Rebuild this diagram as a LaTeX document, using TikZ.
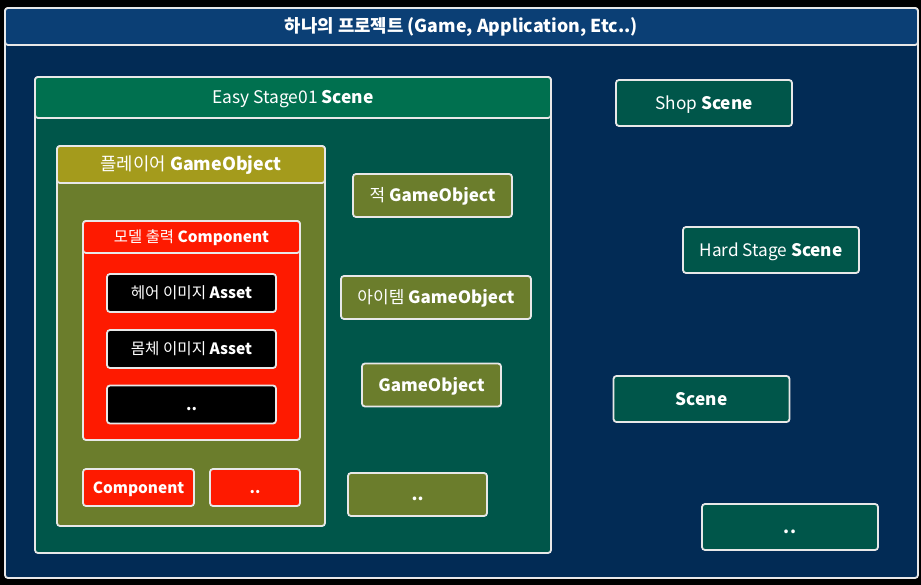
\documentclass[tikz,border=0pt]{standalone}
\usepackage{fontspec}
\setmainfont{Noto Sans CJK KR}
\definecolor{HeadBlue}{HTML}{0B3F75}
\definecolor{Navy}{HTML}{022B55}
\definecolor{SceneHead}{HTML}{00704F}
\definecolor{SceneBody}{HTML}{00564A}
\definecolor{GoHead}{HTML}{A49B1C}
\definecolor{GoBody}{HTML}{6B7D2C}
\definecolor{CompRed}{HTML}{FE1A00}
\definecolor{Edge}{HTML}{E8E8E8}
\usetikzlibrary{positioning}

\begin{document}
\begin{tikzpicture}
    [x=1pt, y=-1pt,
    every node/.style={text=white, inner sep=0pt, text depth=0pt},
    panel/.style={draw=Edge, line width=1.8pt, rounded corners=3pt},
    scenebox/.style={panel, fill=SceneBody},
    scenehead/.style={panel, fill=SceneHead, text height=12.7pt, font=\fontsize{17.4}{20}\selectfont},
    gobox/.style={panel, fill=GoBody},
    gohead/.style={panel, fill=GoHead, text height=13pt, font=\fontsize{17.8}{20}\selectfont},
    comphead/.style={panel, fill=CompRed, text height=11.2pt, font=\fontsize{15.4}{18}\selectfont},
    asset/.style={panel, fill=black, minimum width=169, minimum height=38, text height=11.4pt, font=\fontsize{15.6}{18}\selectfont},
    go/.style={panel, fill=GoBody, minimum height=43, text height=12.4pt, font=\fontsize{17}{20}\selectfont},
    scene/.style={panel, fill=SceneBody, minimum width=176, minimum height=46, text height=12.6pt, font=\fontsize{17.2}{20}\selectfont}]

    \useasboundingbox (0,0) rectangle (921,585);
    \fill[black] (0,0) rectangle (921,585);

    % project frame
    \node[panel, fill=Navy, minimum width=913, minimum height=570] (project) at (461.5,293) {};
    \node[panel, fill=HeadBlue, anchor=north, minimum width=913, minimum height=37, text height=13pt,
        font=\fontsize{17.8}{20}\selectfont\bfseries] (projecthead) at (project.north)
        {하나의 프로젝트 (Game, Application, Etc..)};

    % easy stage scene
    \node[scenebox, minimum width=516, minimum height=476] (easy) at (293,315) {};
    \node[scenehead, anchor=north, minimum width=516, minimum height=41] (easyhead) at (easy.north)
        {Easy Stage01 \textbf{Scene}};

    % player
    \node[gobox, minimum width=268, minimum height=380] (player) at (191,336) {};
    \node[gohead, anchor=north, minimum width=268, minimum height=37] (playerhead) at (player.north)
        {플레이어 \textbf{GameObject}};

    % model component
    \node[panel, fill=CompRed, minimum width=217, minimum height=219] (model) at (191.5,330.5) {};
    \node[comphead, anchor=north, minimum width=217, minimum height=32] (modelhead) at (model.north)
        {모델 출력 \textbf{Component}};
    \node[asset] (hair) at (191.5,293) {헤어 이미지 \textbf{Asset}};
    \node[asset] (body) at (191.5,349) {몸체 이미지 \textbf{Asset}};
    \node[asset] (assetetc) at (191.5,404.5) {\textbf{..}};

    \node[comphead, minimum width=111, minimum height=37] (comp) at (138.5,487.5) {\textbf{Component}};
    \node[comphead, minimum width=90, minimum height=37] (competc) at (255,487.5) {\textbf{..}};

    % other game objects
    \node[go, minimum width=159] (enemy) at (432.5,195.5) {적 \textbf{GameObject}};
    \node[go, minimum width=190] (item) at (436,297.5) {아이템 \textbf{GameObject}};
    \node[go, minimum width=139] (object) at (431.5,385) {\textbf{GameObject}};
    \node[go, minimum width=139] (goetc) at (417.5,494.5) {\textbf{..}};

    % other scenes
    \node[scene] (shop) at (704,103) {Shop \textbf{Scene}};
    \node[scene] (hard) at (771,250) {Hard Stage \textbf{Scene}};
    \node[scene] (scene) at (701.5,399) {\textbf{Scene}};
    \node[scene] (sceneetc) at (790,527) {\textbf{..}};
\end{tikzpicture}
\end{document}
